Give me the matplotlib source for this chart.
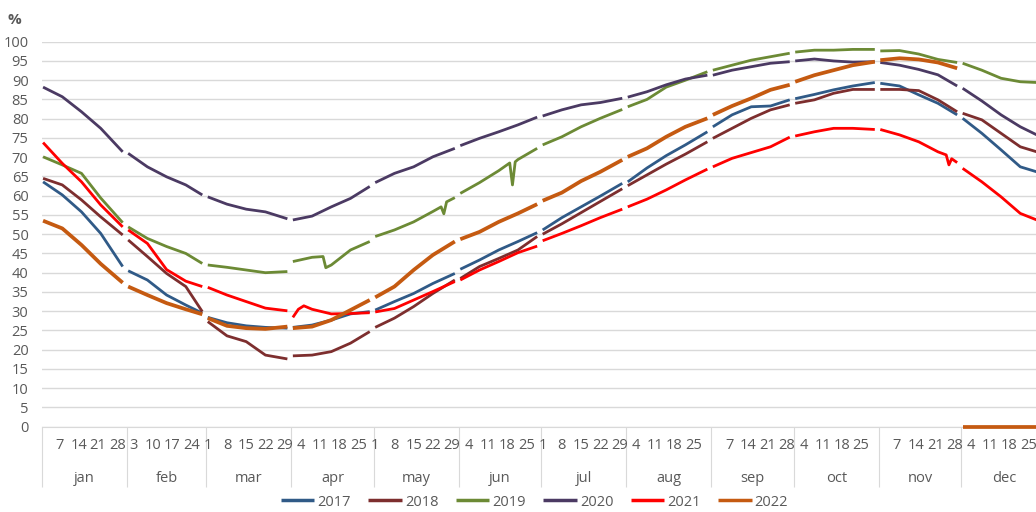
import numpy as np
import matplotlib
matplotlib.use('Agg')
import matplotlib.pyplot as plt
import matplotlib.transforms as mtransforms

plt.rcParams['font.family'] = ['Open Sans', 'DejaVu Sans']

# axis categories (leap-year day axis)
months = ['jan', 'feb', 'mar', 'apr', 'may', 'jun', 'jul', 'aug', 'sep', 'oct', 'nov', 'dec']
month_len = [31, 29, 31, 30, 31, 30, 31, 31, 30, 31, 30, 31]
day_labels = [[7, 14, 21, 28], [3, 10, 17, 24], [1, 8, 15, 22, 29], [4, 11, 18, 25],
              [1, 8, 15, 22, 29], [4, 11, 18, 25], [1, 8, 15, 22, 29], [4, 11, 18, 25],
              [7, 14, 21, 28], [4, 11, 18, 25], [7, 14, 21, 28], [4, 11, 18, 25]]

# values read at day 1, 8, 15, 22 and the last plotted day of each month
sample_days = [1, 8, 15, 22]
last_day = [30, 28, 30, 29, 30, 29, 30, 30, 29, 30, 29, 28]

years = ['2017', '2018', '2019', '2020', '2021', '2022']
colors = ['#305A87', '#7D2E2E', '#6C8A35', '#4B3A63', '#FF0000', '#C55A11']

y2017 = [63.6, 60.2, 55.8, 50.2, 41.6,
         40.5, 38.1, 34.2, 31.6, 29.5,
         28.4, 27.0, 26.2, 25.8, 25.6,
         25.8, 26.4, 27.7, 29.3, 29.9,
         30.3, 32.5, 34.6, 37.2, 39.8,
         40.9, 43.3, 45.9, 48.1, 50.4,
         51.1, 54.3, 57.1, 59.9, 63.2,
         63.6, 67.2, 70.4, 73.2, 76.6,
         77.9, 81.0, 83.1, 83.3, 84.9,
         85.2, 86.3, 87.5, 88.5, 89.4,
         89.2, 88.5, 86.2, 84.0, 81.0,
         80.1, 76.2, 71.9, 67.5, 66.2]

y2018 = [64.5, 62.8, 58.9, 54.5, 49.8,
         48.5, 44.2, 39.8, 36.4, 29.9,
         27.3, 23.6, 22.1, 18.6, 17.6,
         18.4, 18.6, 19.5, 21.7, 24.7,
         25.8, 28.2, 31.2, 34.6, 38.1,
         38.5, 41.6, 43.7, 45.9, 49.4,
         50.0, 52.7, 55.6, 58.5, 61.8,
         62.6, 65.4, 68.2, 70.8, 74.0,
         74.9, 77.5, 80.1, 82.3, 83.6,
         84.0, 84.9, 86.6, 87.6, 87.6,
         87.6, 87.6, 87.3, 84.9, 81.8,
         81.4, 79.7, 76.2, 72.7, 71.4]

y2019 = [70.1, 68.0, 65.8, 59.4, 53.0,
         51.9, 48.9, 46.8, 45.0, 42.4,
         42.0, 41.4, 40.7, 40.0, 40.3,
         42.9, 44.0, 42.0, 45.9, 48.1,
         49.4, 51.1, 53.2, 55.9, 59.5,
         60.6, 63.4, 66.5, 69.4, 72.3,
         73.2, 75.3, 77.9, 80.1, 82.4,
         83.1, 85.0, 88.2, 90.0, 92.2,
         92.6, 93.9, 95.2, 96.1, 97.0,
         97.3, 97.8, 97.8, 98.0, 98.0,
         97.6, 97.7, 96.8, 95.4, 94.6,
         94.4, 92.6, 90.5, 89.6, 89.4]
# short dips in 2019 (month, day, value)
dip2019_month = [4, 4, 5, 5, 5, 6, 6, 6]
dip2019_day = [12, 13, 25, 26, 27, 19, 20, 21]
dip2019_val = [44.2, 41.3, 57.1, 55.3, 58.4, 68.5, 62.8, 68.8]

y2020 = [88.2, 85.7, 81.8, 77.5, 71.4,
         71.0, 67.5, 64.9, 62.8, 60.2,
         59.7, 57.8, 56.5, 55.8, 54.0,
         53.7, 54.7, 57.1, 59.3, 62.4,
         63.4, 65.8, 67.5, 70.1, 72.3,
         73.0, 74.9, 76.6, 78.4, 80.4,
         80.7, 82.3, 83.6, 84.2, 85.3,
         85.6, 87.0, 88.8, 90.3, 91.3,
         91.3, 92.6, 93.5, 94.4, 94.8,
         95.0, 95.5, 95.0, 94.7, 94.8,
         94.6, 93.9, 92.8, 91.4, 88.5,
         87.9, 84.6, 81.0, 77.9, 75.8]

y2021 = [73.8, 68.4, 63.6, 57.6, 51.9,
         51.1, 47.6, 40.8, 37.8, 36.4,
         36.2, 34.2, 32.5, 30.8, 30.1,
         28.4, 30.5, 29.3, 29.4, 29.6,
         29.8, 30.7, 32.9, 35.1, 37.7,
         38.1, 40.7, 42.9, 45.2, 46.9,
         48.3, 50.2, 52.2, 54.3, 56.5,
         57.1, 59.1, 61.5, 64.1, 66.9,
         67.5, 69.7, 71.2, 72.7, 75.2,
         75.5, 76.6, 77.5, 77.5, 77.2,
         77.2, 75.8, 74.0, 71.4, 68.6,
         67.1, 63.6, 59.7, 55.4, 53.7]
dip2021_month = [4, 4, 11, 11, 11]
dip2021_day = [3, 5, 25, 26, 27]
dip2021_val = [30.5, 31.4, 70.6, 68.0, 69.6]

y2022 = [53.5, 51.5, 47.2, 42.3, 37.4,
         36.4, 34.2, 32.1, 30.5, 29.2,
         28.2, 26.2, 25.6, 25.4, 26.0,
         25.6, 26.0, 27.7, 30.3, 32.9,
         33.6, 36.4, 40.7, 44.6, 48.1,
         48.7, 50.6, 53.2, 55.4, 57.8,
         58.7, 60.8, 63.8, 66.2, 69.3,
         70.1, 72.3, 75.3, 77.9, 80.1,
         81.0, 83.3, 85.3, 87.5, 88.8,
         89.6, 91.3, 92.6, 93.9, 94.8,
         95.2, 95.7, 95.4, 94.6, 93.1,
         0, 0, 0, 0, 0]

series = [y2017, y2018, y2019, y2020, y2021, y2022]
dips = {2: (dip2019_month, dip2019_day, dip2019_val),
        4: (dip2021_month, dip2021_day, dip2021_val)}
widths = [2.0, 2.0, 2.0, 2.0, 2.0, 2.7]

month_start = np.concatenate([[0], np.cumsum(month_len)])


def month_segments(vals, extra):
    segs = []
    for m in range(12):
        days = sample_days + [last_day[m]]
        v = list(vals[m * 5:(m + 1) * 5])
        if extra is not None:
            for mm, dd, vv in zip(*extra):
                if mm == m + 1:
                    days.append(dd)
                    v.append(vv)
        order = np.argsort(days)
        x = month_start[m] + np.array(days)[order] - 0.5
        segs.append((x, np.array(v)[order]))
    return segs


W, H = 1036, 512
x0, y0, ytop = 41.7, 426.7, 41.7
px_day = 2.745

fig = plt.figure(figsize=(W / 100, H / 100), dpi=100)
ax = fig.add_axes([x0 / W, 1 - y0 / H, (W - x0) / W, (y0 - ytop) / H])

handles = []
for i, vals in enumerate(series):
    for j, (x, y) in enumerate(month_segments(vals, dips.get(i))):
        ln, = ax.plot(x, y, color=colors[i], lw=widths[i], solid_capstyle='butt',
                      solid_joinstyle='round', clip_on=False, zorder=3 + i)
        if j == 0:
            handles.append(ln)

ax.set_xlim(0, (W - x0) / px_day)
ax.set_ylim(0, 100)
ax.set_yticks(range(0, 101, 5))
ax.yaxis.grid(True, color='#D9D9D9', lw=1)
ax.set_axisbelow(True)
ax.tick_params(axis='y', length=0, pad=9.5, labelsize=10.5, labelcolor='#595959')

for s in ['top', 'right', 'left']:
    ax.spines[s].set_visible(False)
ax.spines['bottom'].set_color('#D9D9D9')

# month separators as long major ticks, day numbers as minor tick labels
ax.set_xticks(month_start[:-1])
ax.set_xticklabels([])
ax.tick_params(axis='x', which='major', length=43, width=0.8, color='#D9D9D9')
pos, lbls = [], []
for m in range(12):
    for d in day_labels[m]:
        pos.append(month_start[m] + d - 0.5)
        lbls.append(str(d))
ax.set_xticks(pos, minor=True)
ax.set_xticklabels(lbls, minor=True)
ax.tick_params(axis='x', which='minor', length=0, pad=8, labelsize=10.5, labelcolor='#595959')

trans = mtransforms.blended_transform_factory(ax.transData, fig.transFigure)
for m in range(12):
    c = month_start[m] + month_len[m] / 2
    ax.text(c, 1 - 478 / H, months[m], transform=trans, ha='center', va='center',
            fontsize=10.5, color='#595959', clip_on=False)

fig.text(14 / W, 1 - 20 / H, '%', ha='center', va='center', fontsize=11,
         fontweight='bold', color='#595959')

leg = fig.legend(handles, years, loc='center', bbox_to_anchor=(0.516, 1 - 502 / H), ncol=6,
                 frameon=False, fontsize=10.5, handlelength=2.3, handletextpad=0.2,
                 columnspacing=1.2, borderaxespad=0)
for t in leg.get_texts():
    t.set_color('#595959')
for l in leg.get_lines():
    l.set_linewidth(2.5)

fig.savefig('out.png', dpi=100)
